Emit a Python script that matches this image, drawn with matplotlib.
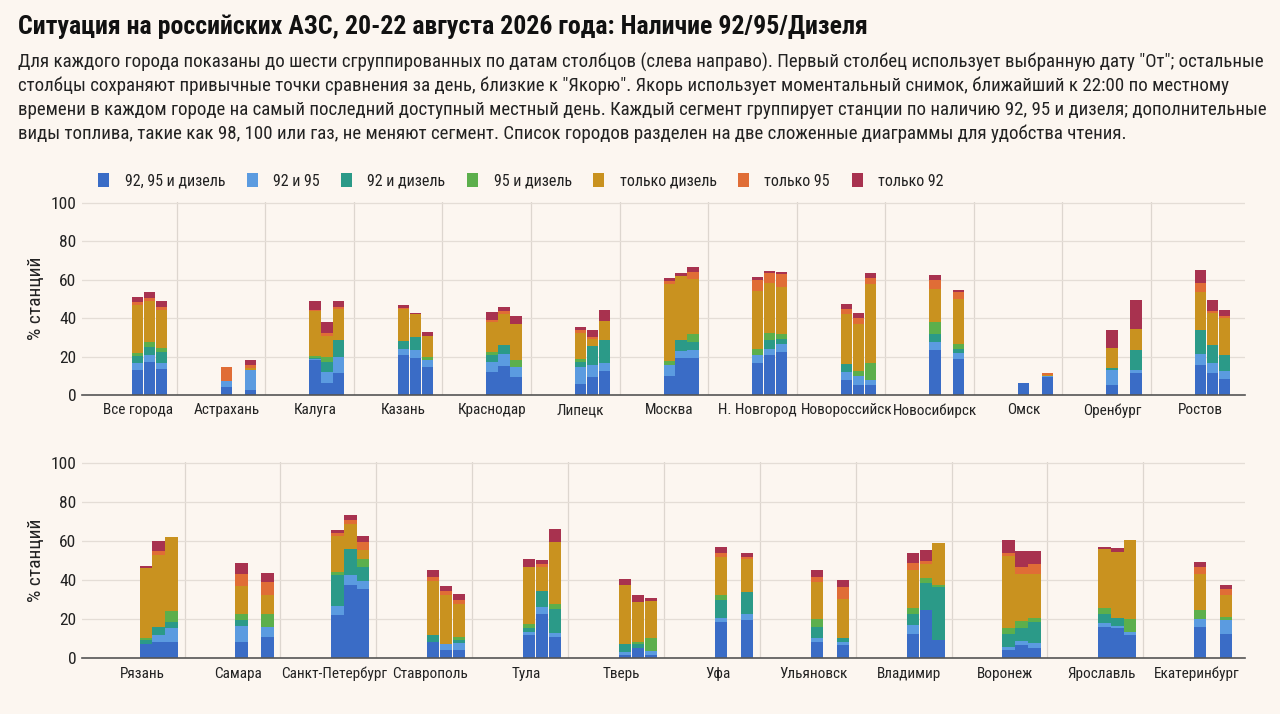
import numpy as np
import matplotlib
matplotlib.use("Agg")
import matplotlib.pyplot as plt
from matplotlib.patches import Patch

plt.rcParams['font.family'] = ['Roboto Condensed', 'Roboto', 'DejaVu Sans']

N = None

# Data: each entry is a city, each triple is the three date columns (None = no column)
top_cities = ["Все города", "Астрахань", "Калуга", "Казань", "Краснодар", "Липецк", "Москва",
              "Н. Новгород", "Новороссийск", "Новосибирск", "Омск", "Оренбург", "Ростов"]
top_all3 = [(13, 17.3, 13.5), (4.3, N, 2.6), (18, 6, 11.6), (20.7, 19, 14.7), (12.1, 15.2, 9.5),
            (5.5, 9.5, 12.4), (10, 19, 19.3), (16.8, 20.7, 22.5), (7.8, 5.2, 5.2), (23.3, N, 18.7),
            (6, N, 9.5), (5.2, N, 11.6), (15.5, 11.6, 8.3)]
top_92_95 = [(3.8, 3.4, 3.3), (3, N, 10.4), (0.5, 6, 8.3), (3, 4.3, 3.4), (5.2, 6.4, 5.2),
             (9.2, 6, 4), (5.5, 3.8, 4), (3.9, 3.5, 3.9), (4.3, 4.8, 2.6), (4.3, N, 3.2),
             (0, N, 0.5), (7.8, N, 1.4), (6, 5.2, 4.1)]
top_92_dz = [(3.6, 4.3, 5.7), (0, N, 0), (0.5, 5.2, 8.6), (4.5, 6.9, 0), (3.7, 4.3, 0),
             (2.5, 10, 12.1), (0, 5.7, 4.3), (0, 4.3, 2.6), (4, 0, 0), (4.3, N, 2.3),
             (0, N, 0), (1.2, N, 10.3), (12.1, 9.1, 8.3)]
top_95_dz = [(1.5, 2.6, 2.2), (0, N, 0), (1.5, 2.6, 0), (0, 0, 1.7), (1.5, 0, 3.4),
             (1.3, 0, 0), (2.3, 0, 4), (3, 3.8, 3), (0, 2.6, 8.6), (6, N, 2.6),
             (0, N, 0), (0, N, 0), (0, 0, 0)]
top_dz = [(24.7, 21.6, 19.3), (0, N, 1.3), (23.3, 11, 16.4), (16.4, 11.8, 10.8), (15.5, 16.1, 18.7),
          (13.8, 3.6, 9.8), (40.1, 33.2, 28.8), (30.7, 25.9, 24.1), (25.9, 24.5, 41.5), (17.3, N, 23.3),
          (0, N, 0.5), (10.3, N, 11.2), (19.8, 16.9, 19.4)]
top_95 = [(1.6, 1.4, 1.8), (7.4, N, 1.3), (0.3, 1.4, 0.9), (0.9, 0, 0), (0.9, 1.7, 0),
          (1.4, 1.0, 0), (1.2, 0.5, 3.8), (5.5, 5.2, 6.9), (2.9, 3, 3.1), (4.6, N, 3.4),
          (0, N, 0.7), (0, N, 0), (4.7, 0.9, 0.9)]
top_92 = [(2.8, 2.8, 3.1), (0, N, 2.5), (4.8, 6, 3.1), (1.2, 0.7, 2.1), (4.3, 2.2, 4.3),
          (1.7, 3.8, 5.7), (1.9, 1.2, 2.3), (1.7, 1.4, 1), (2.4, 2.6, 2.4), (2.6, N, 1.2),
          (0, N, 0.5), (9.2, N, 15.2), (6.9, 6, 3.5)]

bot_cities = ["Рязань", "Самара", "Санкт-Петербург", "Ставрополь", "Тула", "Тверь", "Уфа",
              "Ульяновск", "Владимир", "Воронеж", "Ярославль", "Екатеринбург"]
bot_all3 = [(7.3, 8.1, 8.5), (8.5, N, 11), (22, 37.3, 35.3), (8.5, 4.2, 4.2), (11.9, 22.4, 10.7),
            (1.7, 5.1, 1.7), (18.6, N, 19.5), (8.1, N, 6.8), (12.2, 24.6, 9.3), (4.2, 6.8, 5.4),
            (16.1, 15.3, 11.9), (16.1, N, 12.4)]
bot_92_95 = [(0, 3.7, 6.8), (8.1, N, 5.1), (4.8, 5.1, 4), (0, 2.9, 3.4), (1.7, 3.9, 2.4),
             (1.7, 0, 2), (2.1, N, 2.9), (2.4, N, 1.7), (4.7, 0, 0), (1.7, 2, 2.2),
             (1.7, 1.3, 1.7), (4.2, N, 7.4)]
bot_92_dz = [(2, 4.2, 3.4), (3, N, 0), (15.6, 13.5, 7.3), (3.4, 0, 2), (1.7, 7.9, 12.3),
             (3.7, 2, 0), (9, N, 11.5), (5.6, N, 2), (6, 13.9, 27.2), (6.3, 6.8, 11),
             (5.1, 4.1, 0), (0, N, 0)]
bot_95_dz = [(1.2, 0, 5.4), (2.8, N, 6.3), (1.7, 0, 4.2), (0, 0, 1.4), (2, 0, 2.6),
             (0, 1, 6.8), (2.8, N, 0), (3.9, N, 0), (2.9, 2.5, 0.8), (3.4, 3.4, 2.1),
             (2.9, 0, 6.7), (4.3, N, 1.4)]
bot_dz = [(35.6, 36.8, 38.1), (14.6, N, 9.8), (18.6, 12.7, 4.8), (27.4, 25.1, 17), (29.6, 12.7, 31.3),
          (30.2, 20.7, 18.7), (19.2, N, 16.9), (19, N, 20), (19.1, 7.3, 21.5), (36.6, 24.2, 22.5),
          (30.1, 33.5, 40.4), (18.6, N, 11)]
bot_95 = [(0, 1.9, 0), (6.3, N, 6.8), (1.4, 2.2, 4.1), (2.2, 2, 1.7), (0, 1.4, 0),
          (0, 0, 0), (2, N, 0.8), (2.5, N, 5.9), (3.7, 1.2, 0), (1.5, 3.4, 5.1),
          (0, 0, 0), (3.7, N, 3.4)]
bot_92 = [(1, 5.4, 0), (5.4, N, 4.6), (1.7, 2.4, 3), (3.4, 2.9, 3.4), (3.9, 1.7, 6.8),
          (3.4, 3.4, 1.8), (3.4, N, 2), (3.7, N, 3.4), (5.1, 6.1, 0), (6.8, 8.1, 6.4),
          (0.8, 2.1, 0), (2.2, N, 2)]

labels = ["92, 95 и дизель", "92 и 95", "92 и дизель", "95 и дизель",
          "только дизель", "только 95", "только 92"]
colors = ["#3a6cc6", "#5b9be0", "#2b9a88", "#5caf4c", "#c9921f", "#e06d36", "#a8324f"]

BG = "#fcf6f0"
TXT = "#222222"

fig = plt.figure(figsize=(12.8, 7.14), dpi=100, facecolor=BG)


def draw(ax, cities, series, offsets):
    n = len(cities)
    bottoms = np.zeros((n, 3))
    for vals, col in zip(series, colors):
        for i in range(n):
            for j in range(3):
                v = vals[i][j]
                if v is None:
                    continue
                ax.bar(i + offsets[j], v, bottom=bottoms[i, j], width=0.128,
                       color=col, linewidth=0, zorder=3)
                bottoms[i, j] += v
    ax.set_facecolor(BG)
    ax.set_xlim(-0.63, n - 1 + 0.5)
    ax.set_ylim(0, 100.5)
    ax.set_yticks([0, 20, 40, 60, 80, 100])
    ax.set_xticks(range(n))
    ax.set_xticklabels(cities)
    ax.set_xticks(np.arange(n - 1) + 0.44, minor=True)
    ax.tick_params(axis='both', which='both', length=0, colors=TXT)
    ax.tick_params(axis='x', labelsize=11, pad=6)
    ax.tick_params(axis='y', labelsize=12.5, pad=4)
    ax.grid(axis='y', which='major', color="#e4ddd6", linewidth=0.9, zorder=0)
    ax.grid(axis='x', which='minor', color="#ddd6cf", linewidth=0.9, zorder=0)
    for s in ['top', 'right', 'left']:
        ax.spines[s].set_visible(False)
    ax.spines['bottom'].set_color("#555555")
    ax.spines['bottom'].set_linewidth(1.2)
    ax.spines['bottom'].set_zorder(4)
    ax.set_ylabel("% станций", fontsize=14, color=TXT, labelpad=4)


ax1 = fig.add_axes([0.064, 0.4468, 0.9086, 0.2703])
draw(ax1, top_cities, [top_all3, top_92_95, top_92_dz, top_95_dz, top_dz, top_95, top_92],
     [0.0, 0.135, 0.27])

ax2 = fig.add_axes([0.064, 0.078, 0.9086, 0.2754])
draw(ax2, bot_cities, [bot_all3, bot_92_95, bot_92_dz, bot_95_dz, bot_dz, bot_95, bot_92],
     [0.035, 0.17, 0.305])

fig.text(18 / 1280, 1 - 27 / 714,
         "Ситуация на российских АЗС, 20-22 августа 2026 года: Наличие 92/95/Дизеля",
         fontsize=18.6, fontweight='bold', color="#111111", va='center', ha='left')

sub = ["Для каждого города показаны до шести сгруппированных по датам столбцов (слева направо). Первый столбец использует выбранную дату \"От\"; остальные",
       "столбцы сохраняют привычные точки сравнения за день, близкие к \"Якорю\". Якорь использует моментальный снимок, ближайший к 22:00 по местному",
       "времени в каждом городе на самый последний доступный местный день. Каждый сегмент группирует станции по наличию 92, 95 и дизеля; дополнительные",
       "виды топлива, такие как 98, 100 или газ, не меняют сегмент. Список городов разделен на две сложенные диаграммы для удобства чтения."]
for k, line in enumerate(sub):
    fig.text(18 / 1280, 1 - (62 + 24 * k) / 714, line, fontsize=13.6, color=TXT,
             va='center', ha='left')

handles = [Patch(facecolor=c, edgecolor='none') for c in colors]
fig.legend(handles, labels, ncol=7, loc='center left',
           bbox_to_anchor=(87 / 1280, 1 - 181 / 714), frameon=False,
           fontsize=11.5, handlelength=0.7, handleheight=1.0, handletextpad=0.95,
           columnspacing=1.35, labelcolor=TXT, borderpad=0.2)

fig.savefig("out.png", dpi=100, facecolor=BG)
